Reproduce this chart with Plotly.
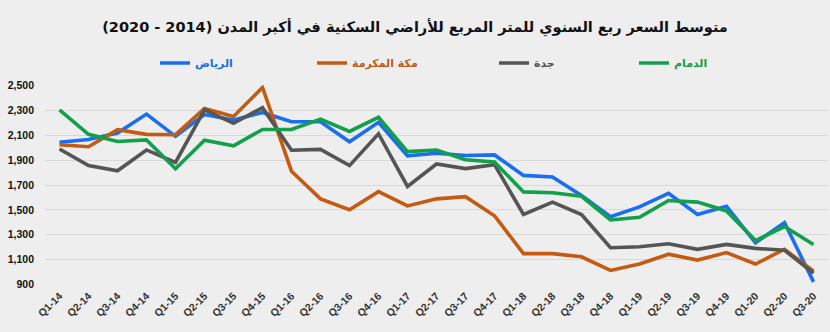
import plotly.graph_objects as go

quarters = ["Q1-14","Q2-14","Q3-14","Q4-14","Q1-15","Q2-15","Q3-15","Q4-15",
            "Q1-16","Q2-16","Q3-16","Q4-16","Q1-17","Q2-17","Q3-17","Q4-17",
            "Q1-18","Q2-18","Q3-18","Q4-18","Q1-19","Q2-19","Q3-19","Q4-19",
            "Q1-20","Q2-20","Q3-20"]

riyadh = [2045, 2068, 2120, 2272, 2093, 2268, 2224, 2285,
          2210, 2210, 2049, 2206, 1936, 1957, 1939, 1943,
          1778, 1766, 1616, 1445, 1524, 1634, 1463, 1529,
          1235, 1398, 920]
makkah = [2025, 2009, 2146, 2109, 2106, 2318, 2253, 2487,
          1812, 1589, 1502, 1647, 1532, 1589, 1607, 1453,
          1148, 1148, 1122, 1012, 1064, 1143, 1096, 1156,
          1064, 1183, 1006]
jeddah = [1991, 1857, 1815, 1983, 1883, 2306, 2198, 2324,
          1981, 1988, 1857, 2114, 1689, 1870, 1833, 1865,
          1463, 1563, 1463, 1195, 1203, 1227, 1182, 1222,
          1190, 1175, 991]
dammam = [2306, 2109, 2051, 2064, 1831, 2061, 2017, 2148,
          2148, 2232, 2132, 2246, 1970, 1983, 1904, 1886,
          1645, 1638, 1610, 1419, 1440, 1576, 1563, 1492,
          1253, 1366, 1222]

series_names = ["الرياض", "مكة المكرمة", "جدة", "الدمام"]
series_values = [riyadh, makkah, jeddah, dammam]
colors = ["#1a6ef0", "#c55a11", "#555555", "#12a04a"]
legend_ids = ["legend", "legend2", "legend3", "legend4"]
legend_px = [155, 312, 494, 634]

title_text = "متوسط السعر ربع السنوي للمتر المربع للأراضي السكنية في أكبر المدن (2014 - 2020)"
ytick_vals = [900, 1100, 1300, 1500, 1700, 1900, 2100, 2300, 2500]

W, H = 830, 332
fig = go.Figure()
for name, vals, col, lid in zip(series_names, series_values, colors, legend_ids):
    fig.add_trace(go.Scatter(x=quarters, y=vals, name=name, mode="lines",
                             line=dict(color=col, width=3.6), legend=lid,
                             hoverinfo="skip"))

layout_legends = {}
for lid, col, px in zip(legend_ids, colors, legend_px):
    layout_legends[lid] = dict(
        xref="container", yref="container",
        x=px / W, y=1 - 63 / H, xanchor="left", yanchor="middle",
        orientation="h", bgcolor="rgba(0,0,0,0)",
        font=dict(family="DejaVu Sans, Arial", size=11, color=col, weight="bold"),
        itemclick=False, itemdoubleclick=False,
    )

fig.update_layout(
    width=W, height=H,
    margin=dict(l=45, r=2, t=80, b=47),
    paper_bgcolor="#eeeeee", plot_bgcolor="#eeeeee",
    title=dict(text=title_text, x=0.5, xref="container", xanchor="center",
               y=1 - 27 / H, yref="container", yanchor="middle",
               font=dict(family="DejaVu Sans, Arial", size=14.5, color="#111111", weight="bold")),
    showlegend=True,
    **layout_legends,
)
fig.update_xaxes(type="category", range=[-0.5, len(quarters) - 0.5],
                 tickangle=-45, showgrid=False, showline=False, zeroline=False,
                 ticks="", ticklabelstandoff=2,
                 tickfont=dict(family="Liberation Sans, Arial", size=10.5,
                               color="#333333", weight="bold"))
fig.update_yaxes(range=[895, 2505], tickvals=ytick_vals, tickformat=",d",
                 showgrid=True, gridcolor="#d8d8d8", gridwidth=1,
                 zeroline=False, showline=False, ticks="", ticklabelstandoff=10,
                 tickfont=dict(family="Liberation Sans, Arial", size=10.5,
                               color="#111111", weight="bold"))

fig.write_html("out.html")
